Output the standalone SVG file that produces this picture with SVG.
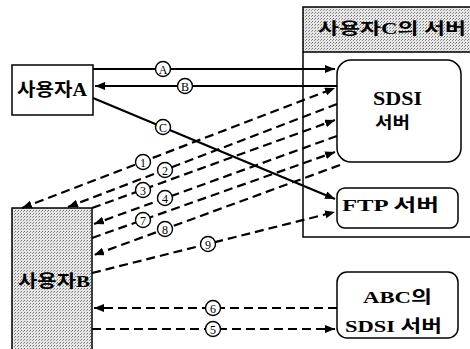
<svg xmlns="http://www.w3.org/2000/svg" width="470" height="349" viewBox="0 0 470 349">
<defs>
<pattern id="stip" width="3" height="3" patternUnits="userSpaceOnUse">
<rect width="3" height="3" fill="#e6e6e6"/>
<rect x="0" y="0" width="1" height="1" fill="#777"/>
<rect x="2" y="1" width="1" height="1" fill="#9a9a9a"/>
</pattern>
<marker id="ah" markerUnits="userSpaceOnUse" markerWidth="11" markerHeight="9" refX="10" refY="4" orient="auto-start-reverse">
<path d="M0,0 L10,4 L0,8 z" fill="#000"/>
</marker>
</defs>
<style>
.box{fill:#fff;stroke:#000;stroke-width:1.5}
.grey{fill:url(#stip);stroke:#000;stroke-width:1.5}
.kt{font-family:"Liberation Serif","Noto Sans CJK KR",serif;font-weight:bold;fill:#000}
.solid{stroke:#000;stroke-width:2.2;fill:none}
.dash{stroke:#000;stroke-width:2.2;fill:none;stroke-dasharray:9 5}
.lab circle{fill:#fff;stroke:#000;stroke-width:1.4}
.lab text{font-family:"Liberation Serif",serif;font-size:12px;text-anchor:middle;fill:#000}
</style>
<rect width="470" height="349" fill="#fff"/>

<g id="serverC">
<rect x="303" y="7" width="170" height="45" fill="url(#stip)"/>
<path d="M472,7 H303 V237 H472 M303,52 H472" fill="none" stroke="#000" stroke-width="1.5"/>
<text class="kt" x="318" y="34" font-size="16" textLength="148" lengthAdjust="spacingAndGlyphs">사용자C의 서버</text>
</g>

<g id="userA">
<rect class="box" x="12" y="65" width="81" height="50"/>
<text class="kt" x="17" y="96" font-size="18" textLength="70" lengthAdjust="spacingAndGlyphs">사용자A</text>
</g>

<g id="userB">
<rect class="grey" x="12" y="208" width="80" height="142"/>
<text class="kt" x="18" y="287" font-size="17" textLength="72" lengthAdjust="spacingAndGlyphs">사용자B</text>
</g>

<g id="sdsi">
<rect class="box" x="337" y="60" width="124" height="102" rx="14"/>
<text class="kt" x="373" y="105" font-size="19" textLength="49" lengthAdjust="spacingAndGlyphs">SDSI</text>
<text class="kt" x="375" y="128" font-size="16" textLength="35" lengthAdjust="spacingAndGlyphs">서버</text>
</g>

<g id="ftp">
<rect class="box" x="337" y="188" width="121" height="40" rx="8"/>
<text class="kt" x="342" y="211" font-size="17" textLength="97" lengthAdjust="spacingAndGlyphs">FTP 서버</text>
</g>

<g id="abc">
<rect class="box" x="337" y="272" width="121" height="66" rx="10"/>
<text class="kt" x="363" y="303" font-size="17" textLength="69" lengthAdjust="spacingAndGlyphs">ABC의</text>
<text class="kt" x="345" y="332" font-size="17" textLength="97" lengthAdjust="spacingAndGlyphs">SDSI 서버</text>
</g>

<g id="connectors">
<line class="solid" x1="93" y1="69" x2="335" y2="69" marker-end="url(#ah)"/>
<line class="solid" x1="337" y1="86" x2="95" y2="86" marker-end="url(#ah)"/>
<line class="solid" x1="93" y1="98" x2="335" y2="199" marker-end="url(#ah)"/>

<line class="dash" x1="22" y1="208" x2="335" y2="88" marker-start="url(#ah)" marker-end="url(#ah)"/>
<line class="dash" x1="337" y1="104" x2="68" y2="207" marker-end="url(#ah)"/>
<line class="dash" x1="92" y1="208" x2="335" y2="120" marker-end="url(#ah)"/>
<line class="dash" x1="337" y1="136" x2="94" y2="224" marker-end="url(#ah)"/>
<line class="dash" x1="92" y1="238" x2="335" y2="152" marker-end="url(#ah)"/>
<line class="dash" x1="340" y1="165" x2="94" y2="255" marker-end="url(#ah)"/>
<line class="dash" x1="92" y1="273" x2="335" y2="212" marker-end="url(#ah)"/>
<line class="dash" x1="337" y1="308" x2="94" y2="308" marker-end="url(#ah)"/>
<line class="dash" x1="92" y1="329" x2="335" y2="329" marker-end="url(#ah)"/>

<g class="lab">
<circle cx="163" cy="69" r="7.5"/><text x="163" y="73.5">A</text>
<circle cx="185" cy="86" r="7.5"/><text x="185" y="90.5">B</text>
<circle cx="163" cy="127" r="7.5"/><text x="163" y="131.5">C</text>
<circle cx="143" cy="162" r="7.5"/><text x="143" y="166.5">1</text>
<circle cx="165" cy="170" r="7.5"/><text x="165" y="174.5">2</text>
<circle cx="143" cy="190" r="7.5"/><text x="143" y="194.5">3</text>
<circle cx="165" cy="198" r="7.5"/><text x="165" y="202.5">4</text>
<circle cx="143" cy="220" r="7.5"/><text x="143" y="224.5">7</text>
<circle cx="165" cy="229" r="7.5"/><text x="165" y="233.5">8</text>
<circle cx="208" cy="244" r="7.5"/><text x="208" y="248.5">9</text>
<circle cx="213" cy="308" r="7.5"/><text x="213" y="312.5">6</text>
<circle cx="213" cy="329" r="7.5"/><text x="213" y="333.5">5</text>
</g>
</g>
</svg>
